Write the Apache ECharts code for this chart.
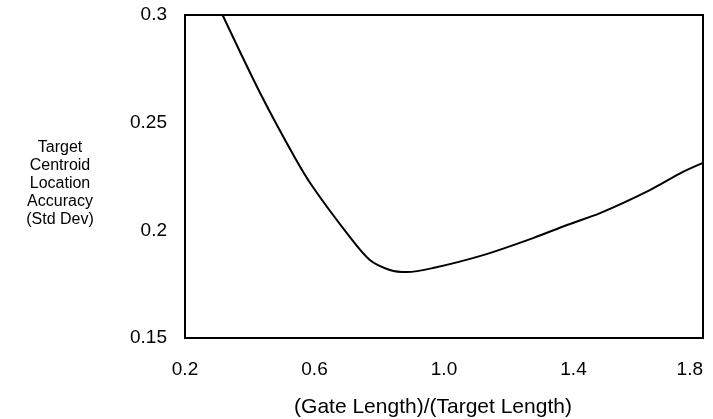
<!DOCTYPE html>
<html>
<head>
<meta charset="utf-8">
<script src="https://cdn.jsdelivr.net/npm/echarts@6/dist/echarts.min.js"></script>
<style>
html,body{margin:0;padding:0;background:#fff;}
#chart{width:713px;height:419px;}
</style>
</head>
<body>
<div id="chart"></div>
<script>
var gateRatio = [0.316, 0.432, 0.54, 0.595, 0.70, 0.771, 0.833, 0.886, 0.966, 1.121, 1.275, 1.38, 1.482, 1.636, 1.738, 1.8];
var accuracy  = [0.300, 0.2638, 0.2336, 0.2201, 0.1987, 0.1862, 0.1816, 0.1806, 0.1825, 0.1885, 0.1964, 0.2025, 0.208, 0.2187, 0.2271, 0.2313];
var xTickLabels = ['0.2', '0.6', '1.0', '1.4', '1.8'];
var yTickLabels = ['0.15', '0.2', '0.25', '0.3'];
var xTitle = '(Gate Length)/(Target Length)';
var yTitle = 'Target\nCentroid\nLocation\nAccuracy\n(Std Dev)';

var seriesData = gateRatio.map(function (x, i) { return [x, accuracy[i]]; });
var FONT = '"Liberation Sans", Arial, Helvetica, sans-serif';

var chart = echarts.init(document.getElementById('chart'), null, {renderer: 'canvas'});
chart.setOption({
  animation: false,
  backgroundColor: '#ffffff',
  grid: {
    left: 185, right: 10, top: 15, bottom: 81,
    outerBoundsMode: 'none',
    containLabel: false,
    show: true, borderColor: '#000', borderWidth: 2, backgroundColor: 'transparent'
  },
  graphic: [{
    type: 'text',
    x: 60, y: 184,
    silent: true,
    style: {
      text: yTitle,
      fill: '#000',
      fontSize: 16,
      fontFamily: FONT,
      lineHeight: 18,
      align: 'center',
      verticalAlign: 'middle'
    }
  }],
  xAxis: {
    type: 'value', min: 0.2, max: 1.8, interval: 0.2,
    axisLine: {show: false},
    axisTick: {show: false},
    splitLine: {show: false},
    axisLabel: {
      margin: 22, color: '#000', fontSize: 19, fontFamily: FONT,
      hideOverlap: false,
      alignMaxLabel: 'right',
      formatter: function (v) {
        var s = v.toFixed(1);
        return xTickLabels.indexOf(s) >= 0 ? s : '';
      }
    },
    name: xTitle, nameLocation: 'middle', nameGap: 59,
    nameTextStyle: {color: '#000', fontSize: 21, fontFamily: FONT, padding: [0, 22, 0, 0]}
  },
  yAxis: {
    type: 'value', min: 0.15, max: 0.3, interval: 0.05,
    axisLine: {show: false},
    axisTick: {show: false},
    splitLine: {show: false},
    axisLabel: {
      margin: 18, color: '#000', fontSize: 19, fontFamily: FONT,
      formatter: function (v) {
        var s = String(Math.round(v * 100) / 100);
        return yTickLabels.indexOf(s) >= 0 ? s : '';
      }
    }
  },
  series: [{
    type: 'line',
    data: seriesData,
    smooth: 0.3,
    showSymbol: false,
    symbol: 'none',
    clip: true,
    lineStyle: {color: '#000', width: 2}
  }]
});
</script>
</body>
</html>
